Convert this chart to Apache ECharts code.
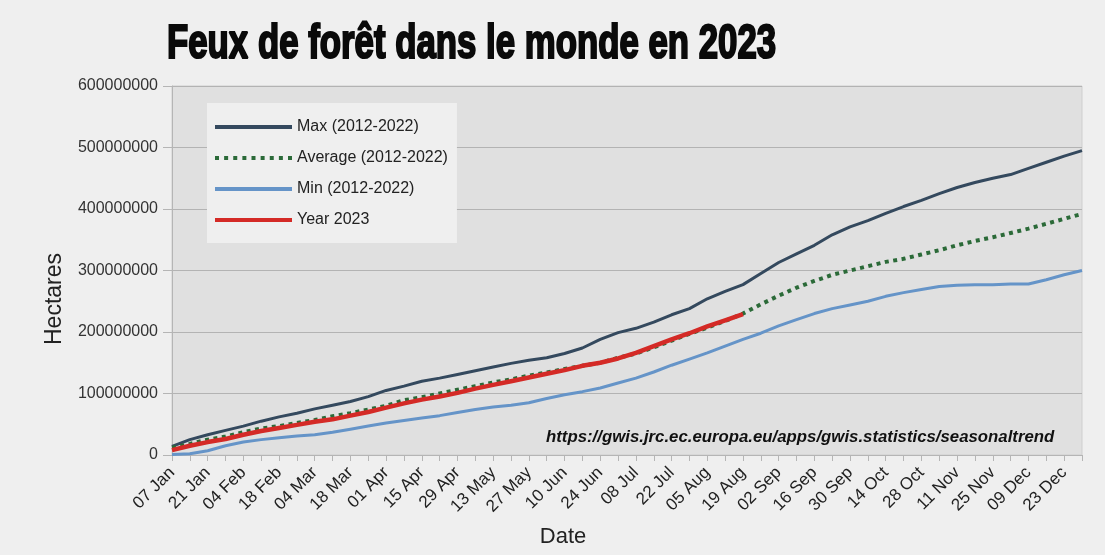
<!DOCTYPE html>
<html>
  <head>
    <meta charset="utf-8">
    <title>Feux de forêt dans le monde en 2023</title>
    <style>
      html, body { margin: 0; padding: 0; background: #efefef; }
    </style>
  </head>
  <body>
    <div id="main" style="width: 1105px;height:555px;"></div>

  <script src="https://cdn.jsdelivr.net/npm/echarts@6/dist/echarts.min.js" charset="utf-8"></script>
  <script type="text/javascript">
  // semaines (une valeur par semaine)
  var dates = ['07 Jan','14 Jan','21 Jan','28 Jan','04 Feb','11 Feb','18 Feb','25 Feb',
    '04 Mar','11 Mar','18 Mar','25 Mar','01 Apr','08 Apr','15 Apr','22 Apr','29 Apr',
    '06 May','13 May','20 May','27 May','03 Jun','10 Jun','17 Jun','24 Jun','01 Jul',
    '08 Jul','15 Jul','22 Jul','29 Jul','05 Aug','12 Aug','19 Aug','26 Aug','02 Sep',
    '09 Sep','16 Sep','23 Sep','30 Sep','07 Oct','14 Oct','21 Oct','28 Oct','04 Nov',
    '11 Nov','18 Nov','25 Nov','02 Dec','09 Dec','16 Dec','23 Dec','30 Dec'];

  // valeurs en millions d'hectares
  var maxValues = [14, 25, 33, 40, 47, 55, 62, 68, 75, 81, 87, 95, 105, 112, 120,
    125, 131, 137, 143, 149, 154, 158, 165, 174, 188, 199, 206, 216, 228, 238, 254,
    266, 277, 295, 313, 327, 341, 358, 371, 381, 393, 404, 414, 425, 435, 443, 450,
    456, 466, 476, 486, 495];
  var avgValues = [12, 18, 25, 30, 37, 43, 47, 52, 57, 63, 68, 74, 80, 89, 94,
    100, 106, 112, 118, 123, 129, 134, 140, 145, 150, 158, 165, 175, 186, 197, 207,
    218, 230, 245, 259, 272, 283, 293, 300, 307, 314, 319, 326, 333, 341, 348, 354,
    361, 368, 376, 384, 392];
  var minValues = [1, 2, 7, 15, 21, 25, 28, 31, 33, 37, 42, 47, 52, 56, 60,
    64, 69, 74, 78, 81, 85, 92, 98, 103, 109, 117, 125, 135, 146, 156, 166,
    177, 188, 198, 210, 220, 230, 238, 244, 250, 258, 264, 269, 274, 276, 277, 277,
    278, 278, 285, 293, 300];
  var year2023 = [8, 15, 21, 26, 33, 39, 44, 49, 54, 58, 64, 70, 77, 84, 90,
    95, 101, 108, 114, 120, 126, 132, 138, 145, 150, 157, 166, 177, 188, 198, 209,
    219, 229];

  var yTicks = [0, 100000000, 200000000, 300000000, 400000000, 500000000, 600000000];

  function toHa(arr) {
    return arr.map(function (v) { return v * 1000000; });
  }

  // icone pointillee pour la legende "Average"
  var dotIcon = 'path://';
  for (var k = 0; k < 9; k++) {
    dotIcon += 'M' + (k * 9.125) + ',0h4v4h-4z';
  }

  var sansFont = '"Liberation Sans", Arial, sans-serif';

  var myChart = echarts.init(document.getElementById('main'));

  var option = {
    backgroundColor: '#efefef',
    animation: false,
    grid: {
      left: 172,
      right: 23,
      top: 86,
      bottom: 100,
      show: true,
      backgroundColor: '#e0e0e0',
      borderColor: '#cfcfcf',
      borderWidth: 1
    },
    legend: {
      orient: 'vertical',
      left: 207,
      top: 103,
      backgroundColor: '#efefef',
      padding: [16, 9, 15, 8],
      itemWidth: 77,
      itemHeight: 4,
      itemGap: 15,
      textStyle: {
        fontFamily: sansFont,
        fontSize: 16,
        lineHeight: 16,
        color: '#222'
      },
      data: [
        { name: 'Max (2012-2022)', icon: 'rect' },
        { name: 'Average (2012-2022)', icon: dotIcon },
        { name: 'Min (2012-2022)', icon: 'rect' },
        { name: 'Year 2023', icon: 'rect' }
      ]
    },
    xAxis: {
      type: 'category',
      data: dates,
      boundaryGap: false,
      axisLine: { lineStyle: { color: '#b5b5b5', width: 1 } },
      axisTick: { interval: 0, length: 6, lineStyle: { color: '#b5b5b5' } },
      axisLabel: {
        // une etiquette toutes les deux semaines
        interval: function (i) { return i % 2 === 0; },
        rotate: 45,
        margin: 15,
        fontFamily: sansFont,
        fontSize: 17,
        color: '#222'
      },
      splitLine: { show: false }
    },
    yAxis: {
      type: 'value',
      min: yTicks[0],
      max: yTicks[yTicks.length - 1],
      interval: 100000000,
      axisLine: { show: true, lineStyle: { color: '#b5b5b5' } },
      axisTick: { show: true, length: 9, lineStyle: { color: '#b5b5b5' } },
      axisLabel: {
        margin: 14,
        fontFamily: sansFont,
        fontSize: 16,
        color: '#333',
        formatter: function (v) { return String(v); }
      },
      splitLine: { lineStyle: { color: '#b3b3b3', width: 1 } }
    },
    graphic: [
      {
        type: 'text',
        x: 167,
        y: 45,
        scaleX: 0.725,
        style: {
          text: 'Feux de forêt dans le monde en 2023',
          font: 'bold 48px ' + sansFont,
          fill: '#0a0a0a',
          stroke: '#0a0a0a',
          lineWidth: 2.2,
          verticalAlign: 'middle'
        }
      },
      {
        type: 'text',
        x: 546,
        y: 437,
        style: {
          text: 'https://gwis.jrc.ec.europa.eu/apps/gwis.statistics/seasonaltrend',
          font: 'italic bold 16.8px ' + sansFont,
          fill: '#111',
          verticalAlign: 'middle'
        }
      },
      {
        type: 'text',
        x: 563,
        y: 537,
        style: {
          text: 'Date',
          font: '22px ' + sansFont,
          fill: '#222',
          align: 'center',
          verticalAlign: 'middle'
        }
      },
      {
        type: 'text',
        x: 55,
        y: 299,
        rotation: Math.PI / 2,
        style: {
          text: 'Hectares',
          font: '23px ' + sansFont,
          fill: '#222',
          align: 'center',
          verticalAlign: 'middle'
        }
      }
    ],
    series: [
      {
        name: 'Max (2012-2022)',
        type: 'line',
        symbol: 'none',
        data: toHa(maxValues),
        z: 2,
        lineStyle: { color: '#34495e', width: 3 },
        itemStyle: { color: '#34495e' }
      },
      {
        name: 'Average (2012-2022)',
        type: 'line',
        symbol: 'none',
        data: toHa(avgValues),
        z: 3,
        lineStyle: { color: '#2b6a38', width: 4, type: [4, 4.5], cap: 'butt' },
        itemStyle: { color: '#2b6a38' }
      },
      {
        name: 'Min (2012-2022)',
        type: 'line',
        symbol: 'none',
        data: toHa(minValues),
        z: 2,
        lineStyle: { color: '#6594c8', width: 3 },
        itemStyle: { color: '#6594c8' }
      },
      {
        name: 'Year 2023',
        type: 'line',
        symbol: 'none',
        data: toHa(year2023),
        z: 4,
        lineStyle: { color: '#d42a26', width: 4.5 },
        itemStyle: { color: '#d42a26' }
      }
    ]
  };
  myChart.setOption(option);
  </script>
  </body>
</html>
